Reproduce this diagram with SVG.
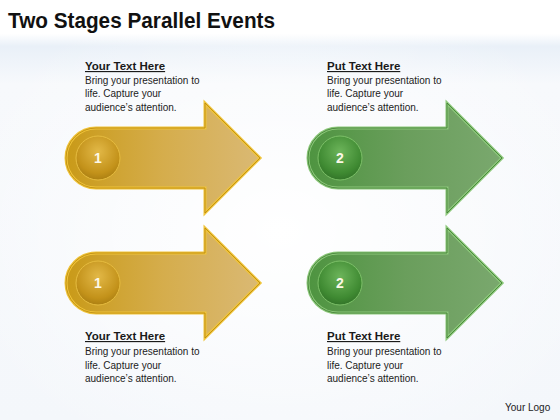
<svg xmlns="http://www.w3.org/2000/svg" xmlns:xlink="http://www.w3.org/1999/xlink" width="560" height="420" viewBox="0 0 560 420">
<defs>
<linearGradient id="bg" x1="0" y1="0" x2="0" y2="1">
<stop offset="0" stop-color="#ffffff"/>
<stop offset="0.08" stop-color="#ffffff"/>
<stop offset="0.11" stop-color="#e9f0f8"/>
<stop offset="0.2" stop-color="#f7f9fc"/>
<stop offset="1" stop-color="#f4f7fb"/>
</linearGradient>
<radialGradient id="bgr" cx="0.5" cy="0.55" r="0.6">
<stop offset="0" stop-color="#ffffff" stop-opacity="1"/>
<stop offset="1" stop-color="#ffffff" stop-opacity="0"/>
</radialGradient>
<linearGradient id="gold" x1="0" y1="0" x2="1" y2="0">
<stop offset="0" stop-color="#c99a18"/>
<stop offset="0.5" stop-color="#d5ad4c"/>
<stop offset="1" stop-color="#dab974"/>
</linearGradient>
<linearGradient id="green" x1="0" y1="0" x2="1" y2="0">
<stop offset="0" stop-color="#4e9440"/>
<stop offset="0.5" stop-color="#6a9e5c"/>
<stop offset="1" stop-color="#7aa86e"/>
</linearGradient>
<radialGradient id="goldc" cx="0.5" cy="0.35" r="0.7">
<stop offset="0" stop-color="#e2b847"/>
<stop offset="0.7" stop-color="#c3921a"/>
<stop offset="1" stop-color="#a57a10"/>
</radialGradient>
<radialGradient id="greenc" cx="0.5" cy="0.35" r="0.7">
<stop offset="0" stop-color="#6cb45a"/>
<stop offset="0.7" stop-color="#3f8a32"/>
<stop offset="1" stop-color="#2f6e26"/>
</radialGradient>
<path id="arrow" d="M30 -30 L139 -30 L139 -55 L194 0 L139 55 L139 30 L30 30 A30 30 0 0 1 30 -30 Z"/>
<style>
.title{font-family:"Liberation Sans",Arial,sans-serif;font-weight:bold;font-size:22px;fill:#111}
.hd{font-family:"Liberation Sans",Arial,sans-serif;font-weight:bold;font-size:11.5px;fill:#1a1a1a;text-decoration:underline}
.bd{font-family:"Liberation Sans",Arial,sans-serif;font-size:10px;fill:#222}
.num{font-family:"Liberation Sans",Arial,sans-serif;font-weight:bold;font-size:14px;fill:#fdf8e8;text-anchor:middle}
.logo{font-family:"Liberation Sans",Arial,sans-serif;font-size:10px;fill:#222}
.ga{fill:url(#gold);stroke:#f0c43a;stroke-width:3;stroke-linejoin:miter}
.gi{fill:none;stroke:#b8860b;stroke-width:0.8}
.na{fill:url(#green);stroke:#8cc87a;stroke-width:3;stroke-linejoin:miter}
.ni{fill:none;stroke:#3c7a30;stroke-width:0.8}
.gc{fill:url(#goldc);stroke:#e6bc40;stroke-width:1}
.nc{fill:url(#greenc);stroke:#7cc068;stroke-width:1}
</style>
</defs>
<rect width="560" height="420" fill="url(#bg)"/>
<rect width="560" height="420" fill="url(#bgr)"/>
<text class="title" x="8" y="28" textLength="267" lengthAdjust="spacingAndGlyphs">Two Stages Parallel Events</text>

<g id="node-1-top">
<g transform="translate(66,158)">
<use xlink:href="#arrow" class="ga"/>
<use xlink:href="#arrow" class="gi"/>
<circle cx="32" cy="0" r="22" class="gc"/>
<text class="num" x="32" y="5">1</text>
</g>
<text class="hd" x="85" y="70">Your Text Here</text>
<text class="bd" x="85" y="84">Bring your presentation to</text>
<text class="bd" x="85" y="97">life. Capture your</text>
<text class="bd" x="85" y="111">audience’s attention.</text>
</g>

<g id="node-2-top">
<g transform="translate(308,158)">
<use xlink:href="#arrow" class="na"/>
<use xlink:href="#arrow" class="ni"/>
<circle cx="32" cy="0" r="22" class="nc"/>
<text class="num" x="32" y="5">2</text>
</g>
<text class="hd" x="327" y="70">Put Text Here</text>
<text class="bd" x="327" y="84">Bring your presentation to</text>
<text class="bd" x="327" y="97">life. Capture your</text>
<text class="bd" x="327" y="111">audience’s attention.</text>
</g>

<g id="node-1-bottom">
<g transform="translate(66,283)">
<use xlink:href="#arrow" class="ga"/>
<use xlink:href="#arrow" class="gi"/>
<circle cx="32" cy="0" r="22" class="gc"/>
<text class="num" x="32" y="5">1</text>
</g>
<text class="hd" x="85" y="340">Your Text Here</text>
<text class="bd" x="85" y="355">Bring your presentation to</text>
<text class="bd" x="85" y="369">life. Capture your</text>
<text class="bd" x="85" y="382">audience’s attention.</text>
</g>

<g id="node-2-bottom">
<g transform="translate(308,283)">
<use xlink:href="#arrow" class="na"/>
<use xlink:href="#arrow" class="ni"/>
<circle cx="32" cy="0" r="22" class="nc"/>
<text class="num" x="32" y="5">2</text>
</g>
<text class="hd" x="327" y="340">Put Text Here</text>
<text class="bd" x="327" y="355">Bring your presentation to</text>
<text class="bd" x="327" y="369">life. Capture your</text>
<text class="bd" x="327" y="382">audience’s attention.</text>
</g>

<g id="connectors"></g>

<text class="logo" x="505" y="411">Your Logo</text>
</svg>
